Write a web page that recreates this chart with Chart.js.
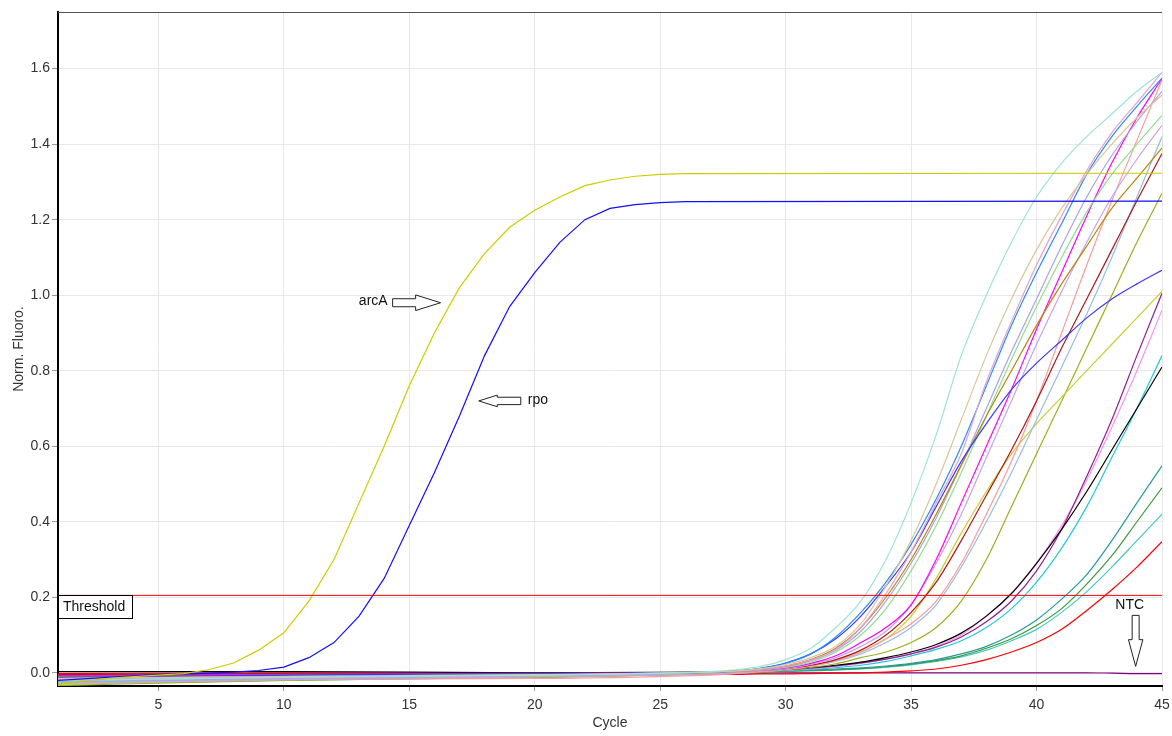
<!DOCTYPE html>
<html lang="en">

<head>
    <meta charset="UTF-8">
    <title>Amplification</title>
    <style>
        html, body {
            margin: 0;
            padding: 0;
            background: #fff;
        }

        #plot {
            display: block;
        }
    </style>
</head>

<body>
    <canvas id="plot" width="1172" height="736"></canvas>

    <script src="https://cdn.jsdelivr.net/npm/chart.js"></script>
    <script>
        // cycles sampled for the late samples
        const cycles = [1, 10, 20, 27, 28, 29, 30, 31, 32, 33, 34, 35, 36, 37, 38, 39, 40, 41, 42, 43, 44, 45];

        const aqua = [-0.02, -0.012, -0.006, 0.003, 0.008, 0.017, 0.035, 0.065, 0.12, 0.19, 0.3, 0.45, 0.63, 0.84, 1.0, 1.14, 1.26, 1.35, 1.42, 1.48, 1.54, 1.59];
        const tan = [-0.015, -0.01, -0.005, 0.002, 0.005, 0.011, 0.022, 0.04, 0.07, 0.13, 0.23, 0.35, 0.5, 0.67, 0.84, 0.99, 1.12, 1.23, 1.32, 1.4, 1.47, 1.53];
        const rose = [-0.018, -0.012, -0.007, 0.002, 0.004, 0.009, 0.018, 0.034, 0.062, 0.12, 0.21, 0.32, 0.45, 0.58, 0.77, 0.93, 1.08, 1.21, 1.33, 1.43, 1.51, 1.59];
        const sky = [-0.02, -0.01, -0.004, 0.002, 0.005, 0.012, 0.025, 0.05, 0.095, 0.16, 0.24, 0.34, 0.46, 0.6, 0.76, 0.92, 1.06, 1.19, 1.32, 1.42, 1.5, 1.575];
        const royal = [-0.012, -0.006, -0.002, 0.002, 0.005, 0.012, 0.026, 0.05, 0.09, 0.15, 0.23, 0.32, 0.44, 0.56, 0.66, 0.75, 0.82, 0.88, 0.94, 0.99, 1.03, 1.066];
        const gold = [-0.01, -0.006, -0.003, 0.001, 0.004, 0.009, 0.018, 0.035, 0.065, 0.12, 0.2, 0.3, 0.42, 0.55, 0.68, 0.8, 0.92, 1.03, 1.13, 1.23, 1.31, 1.39];
        const lavender = [-0.025, -0.015, -0.008, 0.0, 0.003, 0.008, 0.016, 0.032, 0.06, 0.11, 0.19, 0.29, 0.41, 0.55, 0.7, 0.85, 0.99, 1.13, 1.26, 1.37, 1.46, 1.54];
        const mint = [-0.022, -0.014, -0.008, 0.0, 0.003, 0.007, 0.014, 0.028, 0.055, 0.1, 0.17, 0.27, 0.39, 0.53, 0.68, 0.83, 0.97, 1.1, 1.22, 1.32, 1.4, 1.476];
        const magenta = [-0.008, -0.004, -0.002, 0.001, 0.003, 0.007, 0.013, 0.025, 0.045, 0.08, 0.12, 0.18, 0.3, 0.45, 0.6, 0.75, 0.91, 1.06, 1.21, 1.35, 1.47, 1.574];
        const violet = [-0.028, -0.018, -0.01, -0.002, 0.001, 0.005, 0.011, 0.022, 0.04, 0.07, 0.11, 0.18, 0.29, 0.42, 0.57, 0.72, 0.87, 1.01, 1.14, 1.26, 1.36, 1.45];
        const maroon = [-0.004, -0.002, -0.001, 0.001, 0.003, 0.006, 0.011, 0.02, 0.035, 0.06, 0.1, 0.16, 0.24, 0.35, 0.47, 0.59, 0.72, 0.86, 0.99, 1.12, 1.25, 1.375];
        const salmon = [-0.02, -0.017, -0.015, -0.006, -0.002, 0.003, 0.009, 0.018, 0.032, 0.055, 0.09, 0.13, 0.19, 0.29, 0.42, 0.56, 0.72, 0.9, 1.08, 1.25, 1.41, 1.57];
        const steel = [-0.026, -0.016, -0.01, -0.002, 0.001, 0.005, 0.01, 0.018, 0.03, 0.05, 0.08, 0.12, 0.18, 0.28, 0.4, 0.53, 0.67, 0.81, 0.95, 1.1, 1.26, 1.42];
        const lemon = [-0.03, -0.018, -0.01, -0.002, 0.001, 0.005, 0.01, 0.018, 0.032, 0.055, 0.09, 0.15, 0.25, 0.37, 0.48, 0.58, 0.66, 0.73, 0.8, 0.87, 0.94, 1.01];
        const olive = [-0.034, -0.02, -0.012, -0.003, 0.0, 0.003, 0.008, 0.014, 0.024, 0.04, 0.055, 0.08, 0.12, 0.19, 0.3, 0.44, 0.58, 0.72, 0.86, 1.0, 1.14, 1.27];
        const black = [0.003, 0.003, 0.0, 0.002, 0.004, 0.007, 0.01, 0.014, 0.02, 0.028, 0.04, 0.055, 0.075, 0.105, 0.15, 0.21, 0.29, 0.38, 0.48, 0.59, 0.7, 0.81];
        const plum = [-0.005, -0.003, -0.002, 0.001, 0.003, 0.005, 0.008, 0.012, 0.018, 0.026, 0.036, 0.05, 0.068, 0.095, 0.135, 0.19, 0.27, 0.38, 0.52, 0.67, 0.84, 1.005];
        const orchid = [-0.014, -0.01, -0.006, 0.0, 0.002, 0.004, 0.007, 0.011, 0.017, 0.025, 0.036, 0.05, 0.07, 0.1, 0.15, 0.21, 0.29, 0.39, 0.51, 0.65, 0.8, 0.96];
        const cyan = [-0.024, -0.014, -0.008, -0.002, 0.0, 0.003, 0.006, 0.009, 0.014, 0.02, 0.03, 0.045, 0.062, 0.085, 0.12, 0.17, 0.24, 0.33, 0.44, 0.57, 0.7, 0.84];
        const teal = [-0.016, -0.01, -0.005, 0.0, 0.001, 0.003, 0.005, 0.007, 0.01, 0.013, 0.018, 0.025, 0.035, 0.05, 0.07, 0.1, 0.14, 0.195, 0.26, 0.35, 0.45, 0.548];
        const green = [-0.018, -0.012, -0.006, -0.001, 0.0, 0.002, 0.004, 0.006, 0.008, 0.011, 0.016, 0.023, 0.032, 0.045, 0.065, 0.09, 0.125, 0.17, 0.235, 0.31, 0.4, 0.49];
        const turquoise = [-0.03, -0.02, -0.012, -0.003, -0.001, 0.001, 0.003, 0.005, 0.007, 0.01, 0.015, 0.021, 0.03, 0.042, 0.06, 0.085, 0.115, 0.16, 0.215, 0.28, 0.35, 0.42];
        const red = [-0.002, 0.0, -0.003, -0.004, -0.004, -0.003, -0.003, -0.002, -0.001, 0.0, 0.002, 0.005, 0.01, 0.02, 0.035, 0.055, 0.08, 0.115, 0.165, 0.22, 0.28, 0.347];
        const ntc = [-0.008, -0.004, -0.001, -0.001, -0.001, -0.001, 0.0, 0.0, 0.0, 0.0, 0.0, 0.0, 0.0, 0.0, 0.0, 0.0, 0.0, 0.0, 0.0, -0.001, -0.002, -0.002];

        // the two early targets
        const earlyCycles = [1, 2, 3, 4, 5, 6, 7, 8, 9, 10, 11, 12, 13, 14, 15, 16, 17, 18, 19, 20, 21, 22, 23, 24, 25, 26, 45];
        const arcA = [-0.03, -0.022, -0.015, -0.01, -0.006, -0.002, 0.008, 0.026, 0.06, 0.106, 0.19, 0.3, 0.45, 0.6, 0.76, 0.9, 1.02, 1.11, 1.18, 1.225, 1.26, 1.29, 1.305, 1.315, 1.32, 1.322, 1.323];
        const rpo = [-0.02, -0.016, -0.012, -0.008, -0.005, -0.003, -0.001, 0.002, 0.006, 0.015, 0.04, 0.08, 0.15, 0.25, 0.39, 0.53, 0.68, 0.84, 0.97, 1.06, 1.14, 1.2, 1.23, 1.24, 1.245, 1.248, 1.249];

        const threshold = 0.205;
        const xTicks = [5, 10, 15, 20, 25, 30, 35, 40, 45];
        const yTicks = [0, 0.2, 0.4, 0.6, 0.8, 1.0, 1.2, 1.4, 1.6];

        const lateSeries = [
            [aqua, '#9ee3d6'], [tan, '#dcc59a'], [rose, '#e6a2c8'], [sky, '#2a8cff'],
            [royal, '#3a3aff'], [gold, '#b8860b'], [lavender, '#a9a2e8'], [mint, '#90de90'],
            [magenta, '#ff00ff'], [violet, '#c8a2ee'], [maroon, '#b01818'], [salmon, '#ff9a9a'],
            [steel, '#98bce6'], [lemon, '#cccc33'], [olive, '#9ab020'], [black, '#000000'],
            [plum, '#902090'], [orchid, '#ff92f0'], [cyan, '#22c8d8'], [teal, '#2a9a9a'],
            [green, '#3a9a3a'], [turquoise, '#48c8c0'], [red, '#ff0000'], [ntc, '#800080']
        ];

        const toPoints = (xs, ys) => xs.map((x, i) => ({ x, y: ys[i] }));

        const datasets = [{
            data: toPoints([1, 45], [threshold, threshold]),
            borderColor: '#ff0000',
            borderWidth: 1
        }];
        datasets.push({ data: toPoints(earlyCycles, arcA), borderColor: '#cccc00', borderWidth: 1.2 });
        datasets.push({ data: toPoints(earlyCycles, rpo), borderColor: '#1010ff', borderWidth: 1.2 });
        lateSeries.forEach(([values, color]) => {
            datasets.push({
                data: toPoints(cycles, values),
                borderColor: color,
                borderWidth: 1.2,
                cubicInterpolationMode: 'monotone'
            });
        });
        datasets.forEach(d => {
            d.pointRadius = 0;
            d.fill = false;
        });

        // outlined block arrow, tip at (tx, ty); dir is 'right', 'left' or 'down'
        function blockArrow(ctx, tx, ty, dir, len, head, headHalf, shaftHalf) {
            let pts = [[0, 0], [-head, -headHalf], [-head, -shaftHalf], [-len, -shaftHalf],
                [-len, shaftHalf], [-head, shaftHalf], [-head, headHalf]];
            if (dir === 'left') pts = pts.map(([a, b]) => [-a, b]);
            if (dir === 'down') pts = pts.map(([a, b]) => [b, a]);
            ctx.beginPath();
            pts.forEach(([a, b], i) => {
                if (i === 0) ctx.moveTo(tx + a, ty + b);
                else ctx.lineTo(tx + a, ty + b);
            });
            ctx.closePath();
            ctx.fillStyle = '#fff';
            ctx.fill();
            ctx.strokeStyle = '#222';
            ctx.lineWidth = 1;
            ctx.stroke();
        }

        const marks = {
            id: 'marks',
            afterDatasetsDraw(chart) {
                const { ctx, chartArea, scales: { x, y } } = chart;
                ctx.save();

                // frame top edge
                ctx.strokeStyle = '#555';
                ctx.lineWidth = 1;
                ctx.beginPath();
                ctx.moveTo(chartArea.left, chartArea.top + 0.5);
                ctx.lineTo(chartArea.right, chartArea.top + 0.5);
                ctx.stroke();

                // threshold tag
                const ty = Math.round(y.getPixelForValue(threshold));
                ctx.fillStyle = '#fff';
                ctx.fillRect(chartArea.left, ty, 75, 24);
                ctx.strokeStyle = '#000';
                ctx.strokeRect(chartArea.left + 0.5, ty + 0.5, 74, 23);
                ctx.fillStyle = '#111';
                ctx.font = '14px "Liberation Sans", Arial, sans-serif';
                ctx.textBaseline = 'middle';
                ctx.textAlign = 'left';
                ctx.fillText('Threshold', chartArea.left + 5, ty + 12.5);

                // arcA
                let px = x.getPixelForValue(16.25), py = y.getPixelForValue(0.98);
                blockArrow(ctx, px, py, 'right', 48, 25, 7.8, 4);
                ctx.fillStyle = '#111';
                ctx.textAlign = 'right';
                ctx.fillText('arcA', px - 53, py - 2);

                // rpo
                px = x.getPixelForValue(17.77); py = y.getPixelForValue(0.72);
                blockArrow(ctx, px, py, 'left', 42, 18.5, 5.8, 3.7);
                ctx.fillStyle = '#111';
                ctx.textAlign = 'left';
                ctx.fillText('rpo', px + 49, py - 1);

                // no template control
                px = x.getPixelForValue(43.95); py = y.getPixelForValue(0.017);
                blockArrow(ctx, px, py, 'down', 51, 26.7, 7.2, 3.5);
                ctx.fillStyle = '#111';
                ctx.textAlign = 'center';
                ctx.fillText('NTC', px - 6, py - 61);

                ctx.restore();
            }
        };

        Chart.defaults.font.family = '"Liberation Sans", Arial, sans-serif';
        Chart.defaults.font.size = 14;
        Chart.defaults.color = '#333';

        new Chart(document.getElementById('plot'), {
            type: 'line',
            data: { datasets },
            options: {
                responsive: false,
                animation: false,
                events: [],
                layout: { padding: { top: 12, right: 10, left: 0, bottom: 0 } },
                plugins: {
                    legend: { display: false },
                    tooltip: { enabled: false }
                },
                scales: {
                    x: {
                        type: 'linear',
                        min: 1,
                        max: 45,
                        afterBuildTicks: s => { s.ticks = xTicks.map(v => ({ value: v })); },
                        afterFit: s => {
                            s.height = 50;
                            s.paddingLeft = 0;
                            s.paddingRight = 0;
                        },
                        grid: { color: '#e8e8e8', tickLength: 5, tickColor: '#999' },
                        border: { color: '#000', width: 2 },
                        ticks: { padding: 6, maxRotation: 0, color: '#333' },
                        title: { display: true, text: 'Cycle', color: '#333', padding: { top: 2, bottom: 4 } }
                    },
                    y: {
                        min: -0.035,
                        max: 1.75,
                        afterBuildTicks: s => { s.ticks = yTicks.map(v => ({ value: v })); },
                        afterFit: s => { s.width = 58; },
                        grid: { color: '#e8e8e8', tickLength: 6, tickColor: '#999' },
                        border: { color: '#000', width: 2 },
                        ticks: { padding: 2, color: '#333', callback: v => v.toFixed(1) },
                        title: { display: true, text: 'Norm. Fluoro.', color: '#333', padding: { top: 11, bottom: 0 } }
                    }
                }
            },
            plugins: [marks]
        });
    </script>
</body>

</html>
